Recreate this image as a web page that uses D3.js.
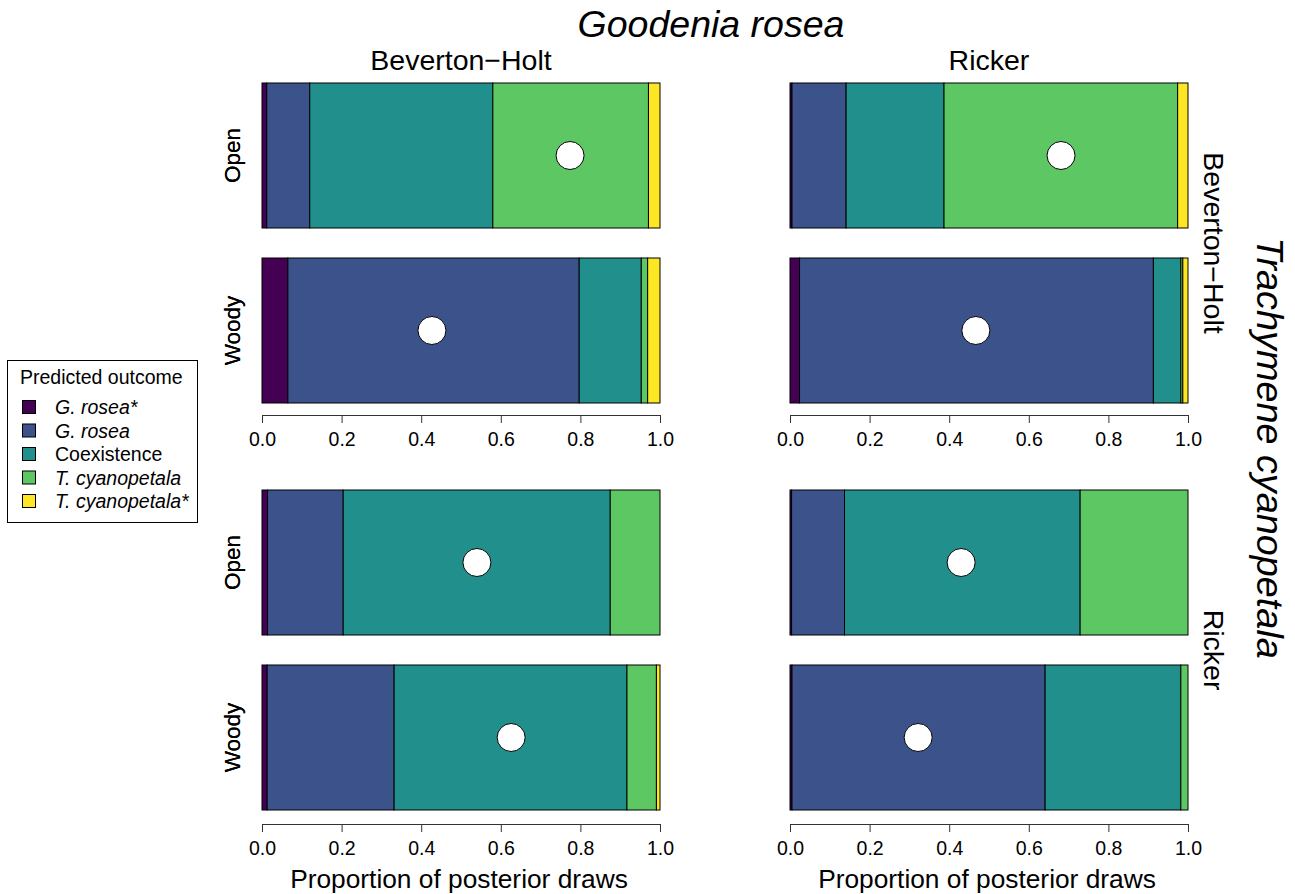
<!DOCTYPE html>
<html><head><meta charset="utf-8">
<script src="https://cdn.jsdelivr.net/npm/d3@7"></script>
<style>body{margin:0;background:#fff;} text{font-family:"Liberation Sans",Arial,Helvetica,sans-serif;}</style>
</head><body><svg id="c" width="1295" height="894"></svg>
<script>
const outcomes = ["G. rosea*", "G. rosea", "Coexistence", "T. cyanopetala", "T. cyanopetala*"];
const outcomeItalic = [true, true, false, true, true];
const colors = ["#440154", "#3B528B", "#21908C", "#5DC863", "#FDE725"];
const models = ["Beverton\u2212Holt", "Ricker"];
const habitats = ["Open", "Woody"];
const ticks = [0, 0.2, 0.4, 0.6, 0.8, 1.0];

// proportions per panel: [row = T. cyanopetala model][col = G. rosea model][habitat]
const bhBhOpen  = [0.012, 0.108, 0.460, 0.391, 0.029];
const bhBhWoody = [0.065, 0.732, 0.156, 0.016, 0.031];
const bhRkOpen  = [0.005, 0.136, 0.246, 0.587, 0.026];
const bhRkWoody = [0.024, 0.889, 0.069, 0.005, 0.013];
const rkBhOpen  = [0.014, 0.190, 0.671, 0.125, 0.000];
const rkBhWoody = [0.013, 0.319, 0.585, 0.074, 0.009];
const rkRkOpen  = [0.004, 0.133, 0.592, 0.271, 0.000];
const rkRkWoody = [0.005, 0.636, 0.341, 0.018, 0.000];
// point estimate positions
const dotValues = [[[0.774, 0.427], [0.681, 0.467]], [[0.540, 0.626], [0.430, 0.322]]];
const panelValues = [[[bhBhOpen, bhBhWoody], [bhRkOpen, bhRkWoody]], [[rkBhOpen, rkBhWoody], [rkRkOpen, rkRkWoody]]];

const svg = d3.select("#c");
const colRanges = [[262, 660], [790, 1188]];
const rowRanges = [[83, 403], [490, 810]];
const axisY = [415, 824];

for (let r = 0; r < 2; r++) {
  const y = d3.scaleBand().domain(habitats).range(rowRanges[r]).paddingInner(30/175).paddingOuter(0);
  for (let c = 0; c < 2; c++) {
    const x = d3.scaleLinear().domain([0, 1]).range(colRanges[c]);
    const g = svg.append("g");
    habitats.forEach((h, hi) => {
      const vals = panelValues[r][c][hi];
      let cum = 0;
      const segs = vals.map((v, i) => { const s = {x0: cum, x1: cum + v, i}; cum += v; return s; });
      g.selectAll(null).data(segs.filter(s => s.x1 - s.x0 > 0)).enter().append("rect")
        .attr("x", s => x(s.x0)).attr("width", s => x(s.x1) - x(s.x0))
        .attr("y", y(h)).attr("height", y.bandwidth())
        .attr("fill", s => colors[s.i]).attr("stroke", "#000").attr("stroke-width", 1);
      g.append("circle").attr("cx", x(dotValues[r][c][hi])).attr("cy", y(h) + y.bandwidth()/2)
        .attr("r", 14).attr("fill", "#fff").attr("stroke", "#000").attr("stroke-width", 1);
      g.append("text").attr("transform", `translate(${240},${y(h) + y.bandwidth()/2}) rotate(-90)`)
        .attr("text-anchor", "middle").attr("font-size", 22.5).text(h);
    });
    const ax = svg.append("g").attr("transform", `translate(0,${axisY[r]})`)
      .call(d3.axisBottom(x).tickValues(ticks).tickFormat(d3.format(".1f")).tickSize(8).tickSizeOuter(0));
    ax.select(".domain").attr("stroke", "#333");
    ax.selectAll(".tick line").attr("stroke", "#333");
    ax.selectAll(".tick text").attr("font-size", 19.5).attr("font-family", "Liberation Sans, Arial, sans-serif").attr("fill", "#000").attr("dy", "1.02em");
    if (r === 1) {
      svg.append("text").attr("x", (colRanges[c][0] + colRanges[c][1]) / 2 - 2).attr("y", 888)
        .attr("text-anchor", "middle").attr("font-size", 26.3).text("Proportion of posterior draws");
    }
  }
  svg.append("text").attr("transform", `translate(1204,${(rowRanges[r][0] + rowRanges[r][1]) / 2}) rotate(90)`)
    .attr("text-anchor", "middle").attr("font-size", 28.5).text(models[r]);
}
models.forEach((m, c) => {
  svg.append("text").attr("x", (colRanges[c][0] + colRanges[c][1]) / 2).attr("y", 70)
    .attr("text-anchor", "middle").attr("font-size", 28.5).text(m);
});
svg.append("text").attr("x", 711).attr("y", 37).attr("text-anchor", "middle")
  .attr("font-size", 37.5).attr("font-style", "italic").text("Goodenia rosea");
svg.append("text").attr("transform", "translate(1257,448) rotate(90)").attr("text-anchor", "middle")
  .attr("font-size", 37.8).attr("font-style", "italic").text("Trachymene cyanopetala");

// legend
const lg = svg.append("g");
lg.append("rect").attr("x", 7.5).attr("y", 360.5).attr("width", 190).attr("height", 162)
  .attr("fill", "#fff").attr("stroke", "#000").attr("stroke-width", 1);
lg.append("text").attr("x", 20).attr("y", 384).attr("font-size", 19.5).text("Predicted outcome");
const ly = d3.scaleLinear().domain([0, 4]).range([407, 501]);
outcomes.forEach((o, i) => {
  lg.append("rect").attr("x", 22.5).attr("y", ly(i) - 6.5).attr("width", 13).attr("height", 13)
    .attr("fill", colors[i]).attr("stroke", "#000").attr("stroke-width", 1);
  lg.append("text").attr("x", 55).attr("y", ly(i) + 7).attr("font-size", 19.5)
    .attr("font-style", outcomeItalic[i] ? "italic" : "normal").text(o);
});
</script></body></html>
